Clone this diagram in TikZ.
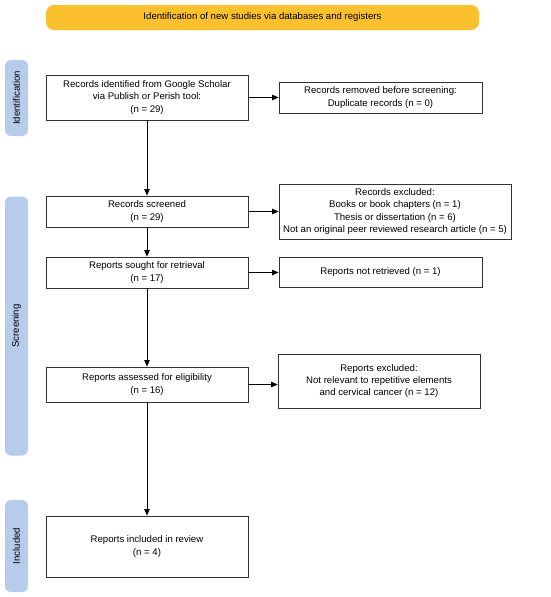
\documentclass[tikz,border=0pt]{standalone}
\usepackage{fontspec}
\setmainfont{Liberation Sans}
\usetikzlibrary{arrows.meta}
\definecolor{ybar}{HTML}{FBC02D}
\definecolor{bside}{HTML}{B7CBEA}
\definecolor{edge}{HTML}{333333}
\begin{document}
\begin{tikzpicture}[x=1pt,y=-1pt,
  every node/.style={font=\fontsize{9.6}{12.3}\selectfont, align=center, inner sep=0pt},
  box/.style={draw=edge, line width=0.8pt, fill=white},
  side/.style={fill=bside, rounded corners=6pt},
  conn/.style={draw=black, line width=0.8pt, -{Triangle[length=6.5pt,width=5.5pt]}}]
\fill[white] (0,0) rectangle (550,597);
\useasboundingbox (0,0) rectangle (550,597);
\node[fill=ybar, rounded corners=8pt, minimum width=433pt, minimum height=25pt] (top) at (262.5,17.5) {Identification of new studies via databases and registers};
\node[side, minimum width=23pt, minimum height=76pt] (sid) at (16.5,98) {};
\node[rotate=90] (sidt) at (sid.center) {Identification};
\node[side, minimum width=23pt, minimum height=259pt] (sscr) at (16.5,326) {};
\node[rotate=90] (sscrt) at (sscr.center) {Screening};
\node[side, minimum width=23pt, minimum height=92pt] (sinc) at (16.5,546) {};
\node[rotate=90] (sinct) at (sinc.center) {Included};
\node[box, minimum width=202pt, minimum height=45pt] (b1) at (147,97.5) {Records identified from Google Scholar\\via Publish or Perish tool:\\(n = 29)};
\node[box, minimum width=203pt, minimum height=31pt] (rem) at (380.5,97.5) {Records removed before screening:\\Duplicate records (n = 0)};
\node[box, minimum width=202pt, minimum height=31pt] (scr) at (147,211.5) {Records screened\\(n = 29)};
\node[box, minimum width=232pt, minimum height=55pt] (exc) at (395,211.5) {Records excluded:\\Books or book chapters (n = 1)\\Thesis or dissertation (n = 6)\\Not an original peer reviewed research article (n = 5)};
\node[box, minimum width=202pt, minimum height=31pt] (sought) at (147,272.5) {Reports sought for retrieval\\(n = 17)};
\node[box, minimum width=203pt, minimum height=30pt] (notret) at (380.5,272.5) {Reports not retrieved (n = 1)};
\node[box, minimum width=202pt, minimum height=35pt] (assess) at (147,384.5) {Reports assessed for eligibility\\(n = 16)};
\node[box, minimum width=202pt, minimum height=54pt] (exc2) at (379,381) {Reports excluded:\\Not relevant to repetitive elements\\and cervical cancer (n = 12)};
\node[box, minimum width=202pt, minimum height=61pt] (incl) at (147,546.5) {Reports included in review\\(n = 4)};
\draw[conn] (b1) -- (scr);
\draw[conn] (scr) -- (sought);
\draw[conn] (sought) -- (assess);
\draw[conn] (assess) -- (incl);
\draw[conn] (b1.east) -- (b1.east -| rem.west);
\draw[conn] (scr.east) -- (scr.east -| exc.west);
\draw[conn] (sought.east) -- (sought.east -| notret.west);
\draw[conn] (assess.east) -- (assess.east -| exc2.west);
\end{tikzpicture}
\end{document}
